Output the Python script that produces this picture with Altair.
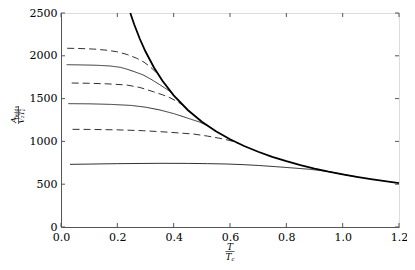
import altair as alt
import pandas as pd

# ---- data ----
env_T = [0.246, 0.26, 0.28, 0.30, 0.33, 0.36, 0.40, 0.45, 0.50, 0.55, 0.60, 0.65,
         0.70, 0.75, 0.80, 0.85, 0.90, 0.95, 1.00, 1.05, 1.10, 1.15, 1.20]
env_A = [2500, 2365, 2196, 2050, 1864, 1708, 1538, 1367, 1230, 1118, 1025, 946,
         879, 820, 769, 724, 683, 647, 615, 586, 559, 535, 512]

d1_T = [0.022, 0.06, 0.115, 0.16, 0.198, 0.235, 0.269, 0.295, 0.316, 0.335, 0.348]
d1_A = [2088, 2086, 2079, 2066, 2048, 2015, 1971, 1925, 1873, 1815, 1765]

s1_T = [0.02, 0.08, 0.13, 0.174, 0.21, 0.233, 0.26, 0.292, 0.32, 0.351, 0.375, 0.39, 0.40]
s1_A = [1896, 1893, 1889, 1881, 1866, 1845, 1815, 1776, 1725, 1662, 1610, 1577, 1538]

d2_T = [0.038, 0.10, 0.16, 0.233, 0.28, 0.328, 0.36, 0.387, 0.41, 0.43]
d2_A = [1682, 1679, 1673, 1659, 1630, 1580, 1545, 1510, 1470, 1430]

s2_T = [0.026, 0.10, 0.18, 0.25, 0.30, 0.351, 0.40, 0.434, 0.465, 0.493, 0.52]
s2_A = [1441, 1439, 1432, 1420, 1400, 1367, 1325, 1289, 1255, 1225, 1183]

d3_T = [0.041, 0.10, 0.20, 0.292, 0.38, 0.47, 0.52, 0.564, 0.60, 0.63]
d3_A = [1141, 1140, 1135, 1125, 1108, 1086, 1062, 1036, 1010, 978]

s3_T = [0.032, 0.10, 0.20, 0.351, 0.45, 0.52, 0.588, 0.65, 0.70, 0.766, 0.83,
        0.884, 0.92, 0.96, 1.0, 1.05]
s3_A = [732, 735, 740, 744, 743, 740, 736, 728, 719, 704, 688, 674, 660, 641,
        615, 586]

x_ticks = [0.0, 0.2, 0.4, 0.6, 0.8, 1.0, 1.2]
y_ticks = [0, 500, 1000, 1500, 2000, 2500]

W, H = 338, 214
FONT = "DejaVu Serif"
AX = "#555555"

rows = []
for name, style, Ts, As in [
    ("d1", "dash", d1_T, d1_A), ("s1", "thin", s1_T, s1_A),
    ("d2", "dash", d2_T, d2_A), ("s2", "thin", s2_T, s2_A),
    ("d3", "dash", d3_T, d3_A), ("s3", "thin", s3_T, s3_A),
]:
    for i, (t, a) in enumerate(zip(Ts, As)):
        rows.append({"series": name, "style": style, "T": t, "A": a, "i": i})
thin_df = pd.DataFrame(rows)
env_df = pd.DataFrame({"T": env_T, "A": env_A, "i": range(len(env_T))})

xs = alt.Scale(domain=[0, 1.2], nice=False, zero=False)
ys = alt.Scale(domain=[0, 2500], nice=False)

xax = alt.Axis(values=x_ticks, format=".1f", title=None, ticks=False,
               labelFont=FONT, labelFontSize=11, labelColor="black",
               labelPadding=4, domainColor=AX, grid=False, labelFlush=False)
yax = alt.Axis(values=y_ticks, format="d", title=None, ticks=False,
               labelFont=FONT, labelFontSize=11, labelColor="black",
               labelPadding=4, domainColor=AX, grid=False, labelFlush=False)

thin = alt.Chart(thin_df).mark_line(color="#1a1a1a", strokeWidth=0.9).encode(
    x=alt.X("T:Q", scale=xs, axis=xax),
    y=alt.Y("A:Q", scale=ys, axis=yax),
    detail="series:N",
    order="i:Q",
    strokeDash=alt.StrokeDash("style:N", scale=alt.Scale(
        domain=["dash", "thin"], range=[[7, 4], [1, 0]]), legend=None),
)

env = alt.Chart(env_df).mark_line(color="black", strokeWidth=1.8).encode(
    x=alt.X("T:Q", scale=xs), y=alt.Y("A:Q", scale=ys), order="i:Q")

xt_df = pd.DataFrame({"t": x_ticks})
yt_df = pd.DataFrame({"t": y_ticks})
tick_bot = alt.Chart(xt_df).mark_rule(color=AX).encode(
    x=alt.X("t:Q", scale=xs), y=alt.value(H), y2=alt.value(H - 4))
tick_top = alt.Chart(xt_df).mark_rule(color=AX).encode(
    x=alt.X("t:Q", scale=xs), y=alt.value(0), y2=alt.value(4))
tick_l = alt.Chart(yt_df).mark_rule(color=AX).encode(
    y=alt.Y("t:Q", scale=ys), x=alt.value(0), x2=alt.value(4))
tick_r = alt.Chart(yt_df).mark_rule(color=AX).encode(
    y=alt.Y("t:Q", scale=ys), x=alt.value(W), x2=alt.value(W - 4))

# ---- fraction titles ----
base = alt.Chart(pd.DataFrame({"k": [0]}))
# x title: T / T_c
xt_num = base.mark_text(text="T", font=FONT, fontSize=9, fontStyle="italic",
                        align="center", baseline="middle").encode(
    x=alt.value(169), y=alt.value(233.5))
xt_bar = base.mark_rule(color="black", strokeWidth=0.6).encode(
    x=alt.value(164.5), x2=alt.value(173.5), y=alt.value(238.5))
xt_den = base.mark_text(text="T", font=FONT, fontSize=9, fontStyle="italic",
                        align="center", baseline="middle").encode(
    x=alt.value(167.5), y=alt.value(243.5))
xt_den_c = base.mark_text(text="c", font=FONT, fontSize=5.5, fontStyle="italic",
                          align="center", baseline="middle").encode(
    x=alt.value(172), y=alt.value(246))

# y title: A_fields / (V_2 T_c^2), rotated
yt_A = base.mark_text(text="A", font=FONT, fontSize=8, fontStyle="italic",
                      angle=270, align="center", baseline="middle").encode(
    x=alt.value(-47), y=alt.value(107))
yt_f = base.mark_text(text="fields", font=FONT, fontSize=5,
                      angle=270, align="center", baseline="middle").encode(
    x=alt.value(-45), y=alt.value(99.5))
yt_bar = base.mark_rule(color="black", strokeWidth=0.6).encode(
    y=alt.value(93), y2=alt.value(111), x=alt.value(-42.5))
yt_V = base.mark_text(text="V₂T", font=FONT, fontSize=7, fontStyle="italic",
                      angle=270, align="center", baseline="middle").encode(
    x=alt.value(-39), y=alt.value(104))
yt_sup = base.mark_text(text="2", font=FONT, fontSize=4.5,
                        angle=270, align="center", baseline="middle").encode(
    x=alt.value(-41), y=alt.value(97))
yt_sub = base.mark_text(text="c", font=FONT, fontSize=4.5, fontStyle="italic",
                        angle=270, align="center", baseline="middle").encode(
    x=alt.value(-37), y=alt.value(97))

chart = alt.layer(
    thin, env, tick_bot, tick_top, tick_l, tick_r,
    xt_num, xt_bar, xt_den, xt_den_c,
    yt_A, yt_f, yt_bar, yt_V, yt_sup, yt_sub,
).properties(
    width=W, height=H,
    autosize=alt.AutoSizeParams(type="none"),
    padding={"left": 53, "top": 5, "right": 8, "bottom": 36},
).configure_view(stroke=AX, strokeWidth=1).configure(
    background="white", font=FONT)

chart.save("out.html", embed_options={"renderer": "svg", "actions": False})
